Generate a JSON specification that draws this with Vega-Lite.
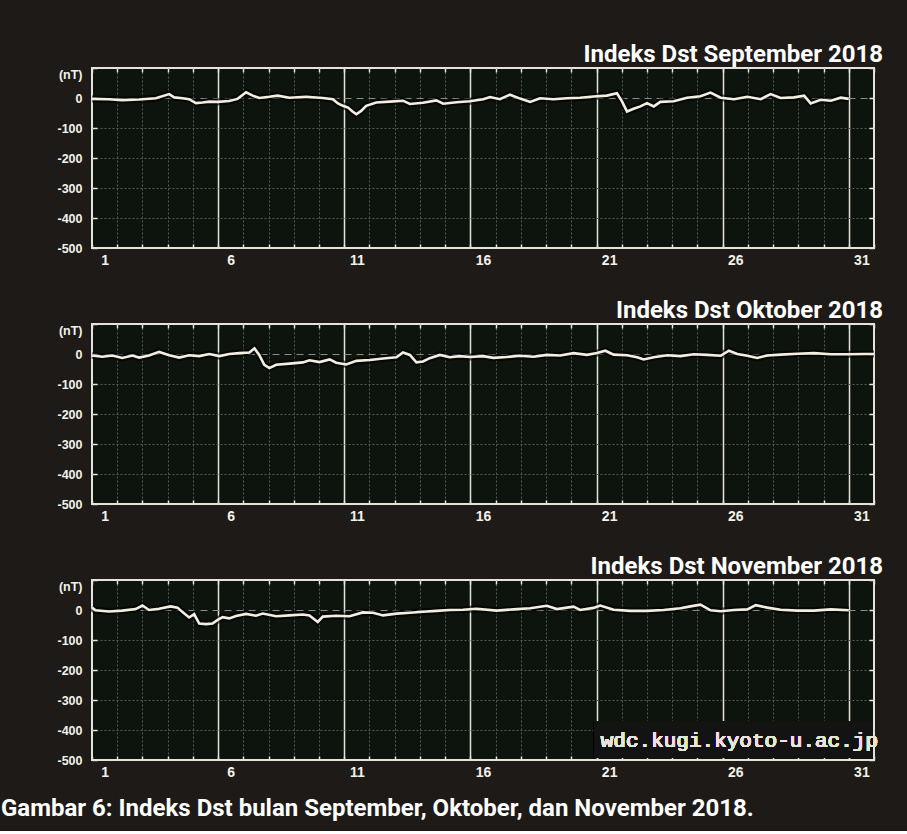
{
  "$schema": "https://vega.github.io/schema/vega-lite/v6.json",
  "background": "#1e1a18",
  "padding": {"left": 0, "top": 42, "right": 20, "bottom": 10},
  "config": {
    "view": {"fill": "#0d140e", "stroke": "#e4e4da", "strokeWidth": 2},
    "axis": {"domain": false, "labelColor": "#f2f2ea", "labelFont": "Liberation Sans", "labelFontWeight": "bold", "tickColor": "#e4e4da", "title": null}
  },
  "datasets": {
    "dst": [
      {"m":"S","d":1.0,"v":-3},{"m":"S","d":1.67,"v":-4},{"m":"S","d":2.2,"v":-7},{"m":"S","d":2.87,"v":-5},{"m":"S","d":3.53,"v":-1},{"m":"S","d":4.06,"v":13},{"m":"S","d":4.26,"v":2},{"m":"S","d":4.59,"v":-1},{"m":"S","d":4.85,"v":-4},{"m":"S","d":5.12,"v":-17},{"m":"S","d":5.38,"v":-15},{"m":"S","d":5.65,"v":-12},{"m":"S","d":5.98,"v":-13},{"m":"S","d":6.44,"v":-10},{"m":"S","d":6.77,"v":-3},{"m":"S","d":7.11,"v":19},{"m":"S","d":7.37,"v":8},{"m":"S","d":7.63,"v":0},{"m":"S","d":8.03,"v":4},{"m":"S","d":8.36,"v":8},{"m":"S","d":8.83,"v":1},{"m":"S","d":9.49,"v":4},{"m":"S","d":10.15,"v":0},{"m":"S","d":10.55,"v":-4},{"m":"S","d":10.75,"v":-18},{"m":"S","d":10.95,"v":-26},{"m":"S","d":11.15,"v":-32},{"m":"S","d":11.34,"v":-46},{"m":"S","d":11.48,"v":-54},{"m":"S","d":11.67,"v":-43},{"m":"S","d":11.87,"v":-26},{"m":"S","d":12.27,"v":-15},{"m":"S","d":12.8,"v":-12},{"m":"S","d":13.33,"v":-9},{"m":"S","d":13.6,"v":-20},{"m":"S","d":14.12,"v":-16},{"m":"S","d":14.65,"v":-8},{"m":"S","d":14.92,"v":-19},{"m":"S","d":15.45,"v":-14},{"m":"S","d":15.98,"v":-11},{"m":"S","d":16.51,"v":-4},{"m":"S","d":16.78,"v":3},{"m":"S","d":17.17,"v":-4},{"m":"S","d":17.57,"v":11},{"m":"S","d":17.97,"v":-2},{"m":"S","d":18.37,"v":-13},{"m":"S","d":18.76,"v":-1},{"m":"S","d":19.29,"v":-4},{"m":"S","d":19.82,"v":-1},{"m":"S","d":20.35,"v":1},{"m":"S","d":20.88,"v":5},{"m":"S","d":21.41,"v":8},{"m":"S","d":21.81,"v":16},{"m":"S","d":22.01,"v":-11},{"m":"S","d":22.21,"v":-45},{"m":"S","d":22.47,"v":-36},{"m":"S","d":22.74,"v":-28},{"m":"S","d":23.0,"v":-17},{"m":"S","d":23.27,"v":-28},{"m":"S","d":23.53,"v":-13},{"m":"S","d":24.06,"v":-11},{"m":"S","d":24.59,"v":1},{"m":"S","d":25.12,"v":6},{"m":"S","d":25.52,"v":18},{"m":"S","d":25.92,"v":1},{"m":"S","d":26.45,"v":-4},{"m":"S","d":26.98,"v":4},{"m":"S","d":27.51,"v":-4},{"m":"S","d":27.9,"v":13},{"m":"S","d":28.3,"v":0},{"m":"S","d":28.83,"v":2},{"m":"S","d":29.23,"v":8},{"m":"S","d":29.49,"v":-18},{"m":"S","d":29.89,"v":-6},{"m":"S","d":30.29,"v":-9},{"m":"S","d":30.68,"v":1},{"m":"S","d":31.0,"v":-3},
      {"m":"O","d":1.0,"v":-5},{"m":"O","d":1.41,"v":-9},{"m":"O","d":1.81,"v":-5},{"m":"O","d":2.2,"v":-13},{"m":"O","d":2.6,"v":-5},{"m":"O","d":2.87,"v":-12},{"m":"O","d":3.26,"v":-5},{"m":"O","d":3.66,"v":7},{"m":"O","d":4.06,"v":-4},{"m":"O","d":4.46,"v":-12},{"m":"O","d":4.85,"v":-4},{"m":"O","d":5.25,"v":-7},{"m":"O","d":5.65,"v":0},{"m":"O","d":6.05,"v":-7},{"m":"O","d":6.44,"v":0},{"m":"O","d":6.84,"v":3},{"m":"O","d":7.24,"v":5},{"m":"O","d":7.44,"v":19},{"m":"O","d":7.63,"v":-3},{"m":"O","d":7.83,"v":-36},{"m":"O","d":8.03,"v":-47},{"m":"O","d":8.3,"v":-36},{"m":"O","d":8.83,"v":-32},{"m":"O","d":9.36,"v":-28},{"m":"O","d":9.62,"v":-21},{"m":"O","d":10.02,"v":-27},{"m":"O","d":10.42,"v":-18},{"m":"O","d":10.68,"v":-29},{"m":"O","d":11.08,"v":-35},{"m":"O","d":11.48,"v":-23},{"m":"O","d":12.01,"v":-20},{"m":"O","d":12.54,"v":-15},{"m":"O","d":13.07,"v":-11},{"m":"O","d":13.33,"v":5},{"m":"O","d":13.6,"v":-3},{"m":"O","d":13.86,"v":-28},{"m":"O","d":14.12,"v":-25},{"m":"O","d":14.39,"v":-14},{"m":"O","d":14.79,"v":-3},{"m":"O","d":15.18,"v":-11},{"m":"O","d":15.58,"v":-7},{"m":"O","d":15.98,"v":-10},{"m":"O","d":16.51,"v":-7},{"m":"O","d":16.91,"v":-13},{"m":"O","d":17.44,"v":-10},{"m":"O","d":17.97,"v":-6},{"m":"O","d":18.5,"v":-9},{"m":"O","d":19.03,"v":-3},{"m":"O","d":19.56,"v":-5},{"m":"O","d":20.09,"v":3},{"m":"O","d":20.62,"v":-3},{"m":"O","d":21.02,"v":3},{"m":"O","d":21.35,"v":11},{"m":"O","d":21.68,"v":-2},{"m":"O","d":22.21,"v":-4},{"m":"O","d":22.61,"v":-11},{"m":"O","d":22.87,"v":-18},{"m":"O","d":23.27,"v":-11},{"m":"O","d":23.8,"v":-4},{"m":"O","d":24.33,"v":-7},{"m":"O","d":24.86,"v":-1},{"m":"O","d":25.39,"v":-3},{"m":"O","d":25.92,"v":-6},{"m":"O","d":26.25,"v":11},{"m":"O","d":26.58,"v":0},{"m":"O","d":26.98,"v":-6},{"m":"O","d":27.37,"v":-13},{"m":"O","d":27.77,"v":-5},{"m":"O","d":28.3,"v":-2},{"m":"O","d":28.96,"v":1},{"m":"O","d":29.62,"v":3},{"m":"O","d":30.29,"v":-1},{"m":"O","d":30.95,"v":-1},{"m":"O","d":31.61,"v":0},{"m":"O","d":32.0,"v":0},
      {"m":"N","d":1.0,"v":8},{"m":"N","d":1.14,"v":-1},{"m":"N","d":1.67,"v":-5},{"m":"N","d":2.2,"v":-2},{"m":"N","d":2.73,"v":3},{"m":"N","d":3.0,"v":15},{"m":"N","d":3.26,"v":0},{"m":"N","d":3.66,"v":4},{"m":"N","d":4.12,"v":12},{"m":"N","d":4.39,"v":8},{"m":"N","d":4.59,"v":-7},{"m":"N","d":4.85,"v":-25},{"m":"N","d":5.05,"v":-14},{"m":"N","d":5.25,"v":-45},{"m":"N","d":5.52,"v":-47},{"m":"N","d":5.78,"v":-45},{"m":"N","d":5.98,"v":-33},{"m":"N","d":6.18,"v":-24},{"m":"N","d":6.44,"v":-28},{"m":"N","d":6.71,"v":-20},{"m":"N","d":7.11,"v":-13},{"m":"N","d":7.5,"v":-19},{"m":"N","d":7.77,"v":-12},{"m":"N","d":8.3,"v":-21},{"m":"N","d":8.83,"v":-18},{"m":"N","d":9.36,"v":-15},{"m":"N","d":9.62,"v":-18},{"m":"N","d":9.95,"v":-40},{"m":"N","d":10.15,"v":-22},{"m":"N","d":10.68,"v":-19},{"m":"N","d":11.21,"v":-21},{"m":"N","d":11.74,"v":-8},{"m":"N","d":12.14,"v":-9},{"m":"N","d":12.54,"v":-18},{"m":"N","d":13.07,"v":-12},{"m":"N","d":13.6,"v":-9},{"m":"N","d":14.12,"v":-6},{"m":"N","d":14.65,"v":-3},{"m":"N","d":15.18,"v":0},{"m":"N","d":15.71,"v":1},{"m":"N","d":16.24,"v":4},{"m":"N","d":17.04,"v":-2},{"m":"N","d":17.7,"v":2},{"m":"N","d":18.37,"v":6},{"m":"N","d":19.03,"v":14},{"m":"N","d":19.43,"v":3},{"m":"N","d":20.09,"v":11},{"m":"N","d":20.35,"v":0},{"m":"N","d":20.88,"v":7},{"m":"N","d":21.15,"v":15},{"m":"N","d":21.68,"v":1},{"m":"N","d":22.34,"v":-3},{"m":"N","d":23.0,"v":-3},{"m":"N","d":23.66,"v":0},{"m":"N","d":24.33,"v":6},{"m":"N","d":24.72,"v":12},{"m":"N","d":25.12,"v":18},{"m":"N","d":25.52,"v":-1},{"m":"N","d":25.92,"v":-4},{"m":"N","d":26.45,"v":0},{"m":"N","d":26.98,"v":2},{"m":"N","d":27.31,"v":16},{"m":"N","d":27.77,"v":8},{"m":"N","d":28.3,"v":1},{"m":"N","d":28.96,"v":-2},{"m":"N","d":29.62,"v":-2},{"m":"N","d":30.29,"v":2},{"m":"N","d":31.0,"v":-1}
    ]
  },
  "title": {"text": "Gambar 6: Indeks Dst bulan September, Oktober, dan November 2018.", "orient": "bottom", "anchor": "start", "dx": -55, "offset": 17, "font": "Roboto", "fontSize": 24, "fontWeight": "bold", "color": "#ffffff"},
  "spacing": 30,
  "vconcat": [
    {
      "width": 782, "height": 180,
      "title": {"text": "Indeks Dst September 2018", "anchor": "end", "frame": "group", "dx": 9, "offset": 0, "font": "Roboto", "fontSize": 24, "fontWeight": "bold", "color": "#ffffff"},
      "data": {"name": "dst"},
      "transform": [{"filter": "datum.m == 'S'"}],
      "layer": [
        {"mark": {"type": "line", "color": "#000000", "strokeWidth": 7, "opacity": 0.6},
         "encoding": {
           "x": {"field": "d", "type": "quantitative", "scale": {"domain": [1, 32], "nice": false, "zero": false}, "axis": {"orient": "top", "values": [1,2,3,4,5,6,7,8,9,10,11,12,13,14,15,16,17,18,19,20,21,22,23,24,25,26,27,28,29,30,31,32], "labels": false, "grid": false, "tickSize": -4, "tickWidth": 1.5}},
           "y": {"field": "v", "type": "quantitative", "scale": {"domain": [-500, 100], "nice": false, "zero": false}, "axis": {"orient": "right", "values": [-500,-400,-300,-200,-100,0,100], "labels": false, "grid": false, "tickSize": -5, "tickWidth": 1.5}}
         }},
        {"mark": {"type": "line", "color": "#f2efe2", "strokeWidth": 2.6},
         "encoding": {
           "x": {"field": "d", "type": "quantitative", "axis": {"orient": "bottom", "values": [1,1.5,2,3,4,5,6,6.5,7,8,9,10,11,11.5,12,13,14,15,16,16.5,17,18,19,20,21,21.5,22,23,24,25,26,26.5,27,28,29,30,31,31.5,32], "tickSize": -4, "tickWidth": 1.5, "tickOpacity": {"condition": {"test": "datum.value % 1 != 0", "value": 0}, "value": 1}, "labelExpr": "datum.value % 1 != 0 ? toString(floor(datum.value)) : ''", "labelFontSize": 14, "labelPadding": 9, "grid": true, "gridOpacity": {"condition": {"test": "datum.value % 1 != 0 || datum.value == 1 || datum.value == 32", "value": 0}, "value": 1}, "gridColor": {"condition": {"test": "(datum.value - 1) % 5 == 0", "value": "#e4e4da"}, "value": "#535b4f"}, "gridWidth": {"condition": {"test": "(datum.value - 1) % 5 == 0", "value": 1.5}, "value": 1}, "gridDash": {"condition": {"test": "(datum.value - 1) % 5 == 0", "value": []}, "value": [2, 2]}}},
           "y": {"field": "v", "type": "quantitative", "axis": {"orient": "left", "values": [-500,-400,-300,-200,-100,0,100], "tickSize": -5, "tickWidth": 1.5, "labelFontSize": 12.5, "labelPadding": 15, "labelExpr": "datum.value == 100 ? '(nT)' : '' + datum.value", "labelBaseline": {"condition": {"test": "datum.value == 100", "value": "top"}, "value": "middle"}, "grid": true, "gridOpacity": {"condition": {"test": "datum.value == 100 || datum.value == -500", "value": 0}, "value": 1}, "gridColor": {"condition": {"test": "datum.value == 0", "value": "#8c8c84"}, "value": "#535b4f"}, "gridDash": {"condition": {"test": "datum.value == 0", "value": [7, 5]}, "value": [2, 2]}}}
         }}
      ],
      "resolve": {"axis": {"x": "independent", "y": "independent"}}
    },
    {
      "width": 782, "height": 180,
      "title": {"text": "Indeks Dst Oktober 2018", "anchor": "end", "frame": "group", "dx": 9, "offset": 0, "font": "Roboto", "fontSize": 24, "fontWeight": "bold", "color": "#ffffff"},
      "data": {"name": "dst"},
      "transform": [{"filter": "datum.m == 'O'"}],
      "layer": [
        {"mark": {"type": "line", "color": "#000000", "strokeWidth": 7, "opacity": 0.6},
         "encoding": {
           "x": {"field": "d", "type": "quantitative", "scale": {"domain": [1, 32], "nice": false, "zero": false}, "axis": {"orient": "top", "values": [1,2,3,4,5,6,7,8,9,10,11,12,13,14,15,16,17,18,19,20,21,22,23,24,25,26,27,28,29,30,31,32], "labels": false, "grid": false, "tickSize": -4, "tickWidth": 1.5}},
           "y": {"field": "v", "type": "quantitative", "scale": {"domain": [-500, 100], "nice": false, "zero": false}, "axis": {"orient": "right", "values": [-500,-400,-300,-200,-100,0,100], "labels": false, "grid": false, "tickSize": -5, "tickWidth": 1.5}}
         }},
        {"mark": {"type": "line", "color": "#f2efe2", "strokeWidth": 2.6},
         "encoding": {
           "x": {"field": "d", "type": "quantitative", "axis": {"orient": "bottom", "values": [1,1.5,2,3,4,5,6,6.5,7,8,9,10,11,11.5,12,13,14,15,16,16.5,17,18,19,20,21,21.5,22,23,24,25,26,26.5,27,28,29,30,31,31.5,32], "tickSize": -4, "tickWidth": 1.5, "tickOpacity": {"condition": {"test": "datum.value % 1 != 0", "value": 0}, "value": 1}, "labelExpr": "datum.value % 1 != 0 ? toString(floor(datum.value)) : ''", "labelFontSize": 14, "labelPadding": 9, "grid": true, "gridOpacity": {"condition": {"test": "datum.value % 1 != 0 || datum.value == 1 || datum.value == 32", "value": 0}, "value": 1}, "gridColor": {"condition": {"test": "(datum.value - 1) % 5 == 0", "value": "#e4e4da"}, "value": "#535b4f"}, "gridWidth": {"condition": {"test": "(datum.value - 1) % 5 == 0", "value": 1.5}, "value": 1}, "gridDash": {"condition": {"test": "(datum.value - 1) % 5 == 0", "value": []}, "value": [2, 2]}}},
           "y": {"field": "v", "type": "quantitative", "axis": {"orient": "left", "values": [-500,-400,-300,-200,-100,0,100], "tickSize": -5, "tickWidth": 1.5, "labelFontSize": 12.5, "labelPadding": 15, "labelExpr": "datum.value == 100 ? '(nT)' : '' + datum.value", "labelBaseline": {"condition": {"test": "datum.value == 100", "value": "top"}, "value": "middle"}, "grid": true, "gridOpacity": {"condition": {"test": "datum.value == 100 || datum.value == -500", "value": 0}, "value": 1}, "gridColor": {"condition": {"test": "datum.value == 0", "value": "#8c8c84"}, "value": "#535b4f"}, "gridDash": {"condition": {"test": "datum.value == 0", "value": [7, 5]}, "value": [2, 2]}}}
         }}
      ],
      "resolve": {"axis": {"x": "independent", "y": "independent"}}
    },
    {
      "width": 782, "height": 180,
      "title": {"text": "Indeks Dst November 2018", "anchor": "end", "frame": "group", "dx": 9, "offset": 0, "font": "Roboto", "fontSize": 24, "fontWeight": "bold", "color": "#ffffff"},
      "data": {"name": "dst"},
      "transform": [{"filter": "datum.m == 'N'"}],
      "layer": [
        {"mark": {"type": "line", "color": "#000000", "strokeWidth": 7, "opacity": 0.6},
         "encoding": {
           "x": {"field": "d", "type": "quantitative", "scale": {"domain": [1, 32], "nice": false, "zero": false}, "axis": {"orient": "top", "values": [1,2,3,4,5,6,7,8,9,10,11,12,13,14,15,16,17,18,19,20,21,22,23,24,25,26,27,28,29,30,31,32], "labels": false, "grid": false, "tickSize": -4, "tickWidth": 1.5}},
           "y": {"field": "v", "type": "quantitative", "scale": {"domain": [-500, 100], "nice": false, "zero": false}, "axis": {"orient": "right", "values": [-500,-400,-300,-200,-100,0,100], "labels": false, "grid": false, "tickSize": -5, "tickWidth": 1.5}}
         }},
        {"mark": {"type": "line", "color": "#f2efe2", "strokeWidth": 2.6},
         "encoding": {
           "x": {"field": "d", "type": "quantitative", "axis": {"orient": "bottom", "values": [1,1.5,2,3,4,5,6,6.5,7,8,9,10,11,11.5,12,13,14,15,16,16.5,17,18,19,20,21,21.5,22,23,24,25,26,26.5,27,28,29,30,31,31.5,32], "tickSize": -4, "tickWidth": 1.5, "tickOpacity": {"condition": {"test": "datum.value % 1 != 0", "value": 0}, "value": 1}, "labelExpr": "datum.value % 1 != 0 ? toString(floor(datum.value)) : ''", "labelFontSize": 14, "labelPadding": 9, "grid": true, "gridOpacity": {"condition": {"test": "datum.value % 1 != 0 || datum.value == 1 || datum.value == 32", "value": 0}, "value": 1}, "gridColor": {"condition": {"test": "(datum.value - 1) % 5 == 0", "value": "#e4e4da"}, "value": "#535b4f"}, "gridWidth": {"condition": {"test": "(datum.value - 1) % 5 == 0", "value": 1.5}, "value": 1}, "gridDash": {"condition": {"test": "(datum.value - 1) % 5 == 0", "value": []}, "value": [2, 2]}}},
           "y": {"field": "v", "type": "quantitative", "axis": {"orient": "left", "values": [-500,-400,-300,-200,-100,0,100], "tickSize": -5, "tickWidth": 1.5, "labelFontSize": 12.5, "labelPadding": 15, "labelExpr": "datum.value == 100 ? '(nT)' : '' + datum.value", "labelBaseline": {"condition": {"test": "datum.value == 100", "value": "top"}, "value": "middle"}, "grid": true, "gridOpacity": {"condition": {"test": "datum.value == 100 || datum.value == -500", "value": 0}, "value": 1}, "gridColor": {"condition": {"test": "datum.value == 0", "value": "#8c8c84"}, "value": "#535b4f"}, "gridDash": {"condition": {"test": "datum.value == 0", "value": [7, 5]}, "value": [2, 2]}}}
         }},
        {"mark": {"type": "rect", "color": "#131313", "opacity": 0.95},
         "encoding": {"x": {"datum": 20.9, "type": "quantitative", "axis": null}, "x2": {"datum": 31.95}, "y": {"datum": -372, "type": "quantitative", "axis": null}, "y2": {"datum": -493}}},
        {"mark": {"type": "text", "text": "wdc.kugi.kyoto-u.ac.jp", "font": "Liberation Mono", "fontSize": 21, "color": "#e6e6dc", "align": "right", "baseline": "middle", "dx": 4},
         "encoding": {"x": {"datum": 32, "type": "quantitative", "axis": null}, "y": {"datum": -437, "type": "quantitative", "axis": null}}}
      ],
      "resolve": {"axis": {"x": "independent", "y": "independent"}}
    }
  ]
}
